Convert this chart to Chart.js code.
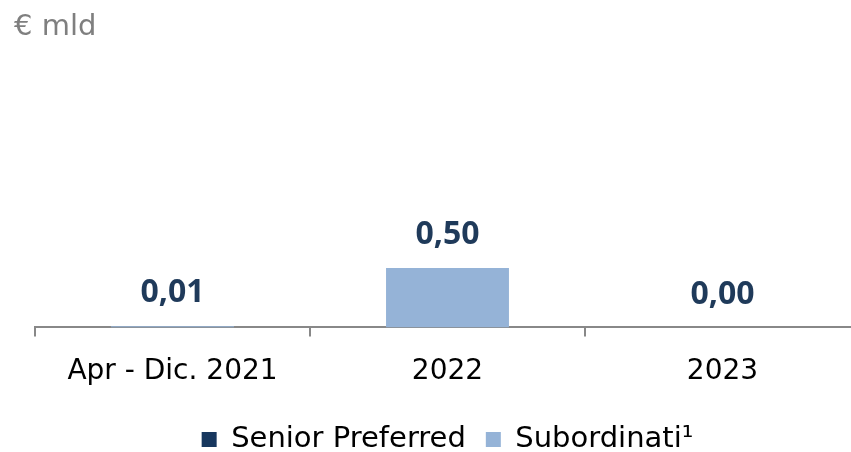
<!DOCTYPE html>
<html>
<head>
<meta charset="utf-8">
<script src="https://cdn.jsdelivr.net/npm/chart.js@4.4.1/dist/chart.umd.min.js"></script>
<style>
  html, body { margin: 0; padding: 0; background: #fff; overflow: hidden; }
  #wrap { position: relative; width: 880px; height: 452px; }
  #unit { position: absolute; left: 14px; top: 8px; font: 29px "DejaVu Sans", sans-serif; color: #7F7F7F; }
</style>
</head>
<body>
<div id="wrap">
  <canvas id="c" width="880" height="452"></canvas>
  <div id="unit">€ mld</div>
</div>
<script>
const categories = ['Apr - Dic. 2021', '2022', '2023'];
const seniorPreferred = [0.00, 0.00, 0.00];
const subordinati = [0.01, 0.50, 0.00];
const seriesNames = ['Senior Preferred', 'Subordinati¹'];

// Totals written above each stacked column
const totalLabels = {
  id: 'totalLabels',
  afterDatasetsDraw(chart) {
    const ctx = chart.ctx;
    const y = chart.scales.y;
    const x = chart.scales.x;
    ctx.save();
    ctx.font = 'bold 32px "Open Sans", sans-serif';
    ctx.fillStyle = '#1F3A5A';
    ctx.textAlign = 'center';
    ctx.textBaseline = 'middle';
    categories.forEach((c, i) => {
      const total = seniorPreferred[i] + subordinati[i];
      const px = x.getPixelForValue(i);
      const py = y.getPixelForValue(total) - 33;
      ctx.fillText(total.toFixed(2).replace('.', ','), px, py);
    });
    ctx.restore();
  }
};

new Chart(document.getElementById('c'), {
  type: 'bar',
  data: {
    labels: categories,
    datasets: [
      { label: seriesNames[0], data: seniorPreferred, backgroundColor: '#17375E', stack: 's' },
      { label: seriesNames[1], data: subordinati, backgroundColor: '#95B3D7', stack: 's' }
    ]
  },
  options: {
    responsive: false,
    animation: false,
    layout: { padding: { left: 35, right: 20, top: 0, bottom: -12 } },
    datasets: { bar: { categoryPercentage: 0.447, barPercentage: 1.0 } },
    scales: {
      x: {
        stacked: true,
        afterFit(scale) { scale.height -= 3; },
        grid: { display: true, drawOnChartArea: false, drawTicks: true, tickLength: 9, color: '#888888', lineWidth: 2, offset: true },
        border: { display: true, color: '#888888', width: 2 },
        ticks: { color: '#000000', padding: 19, font: { family: '"DejaVu Sans", sans-serif', size: 28 } }
      },
      y: {
        stacked: true,
        display: false,
        min: 0,
        max: 2.76
      }
    },
    plugins: {
      legend: {
        position: 'bottom',
        labels: {
          boxWidth: 15,
          boxHeight: 15,
          padding: 20,
          color: '#000000',
          font: { family: '"DejaVu Sans", sans-serif', size: 29 }
        }
      },
      tooltip: { enabled: false }
    }
  },
  plugins: [totalLabels]
});
</script>
</body>
</html>
